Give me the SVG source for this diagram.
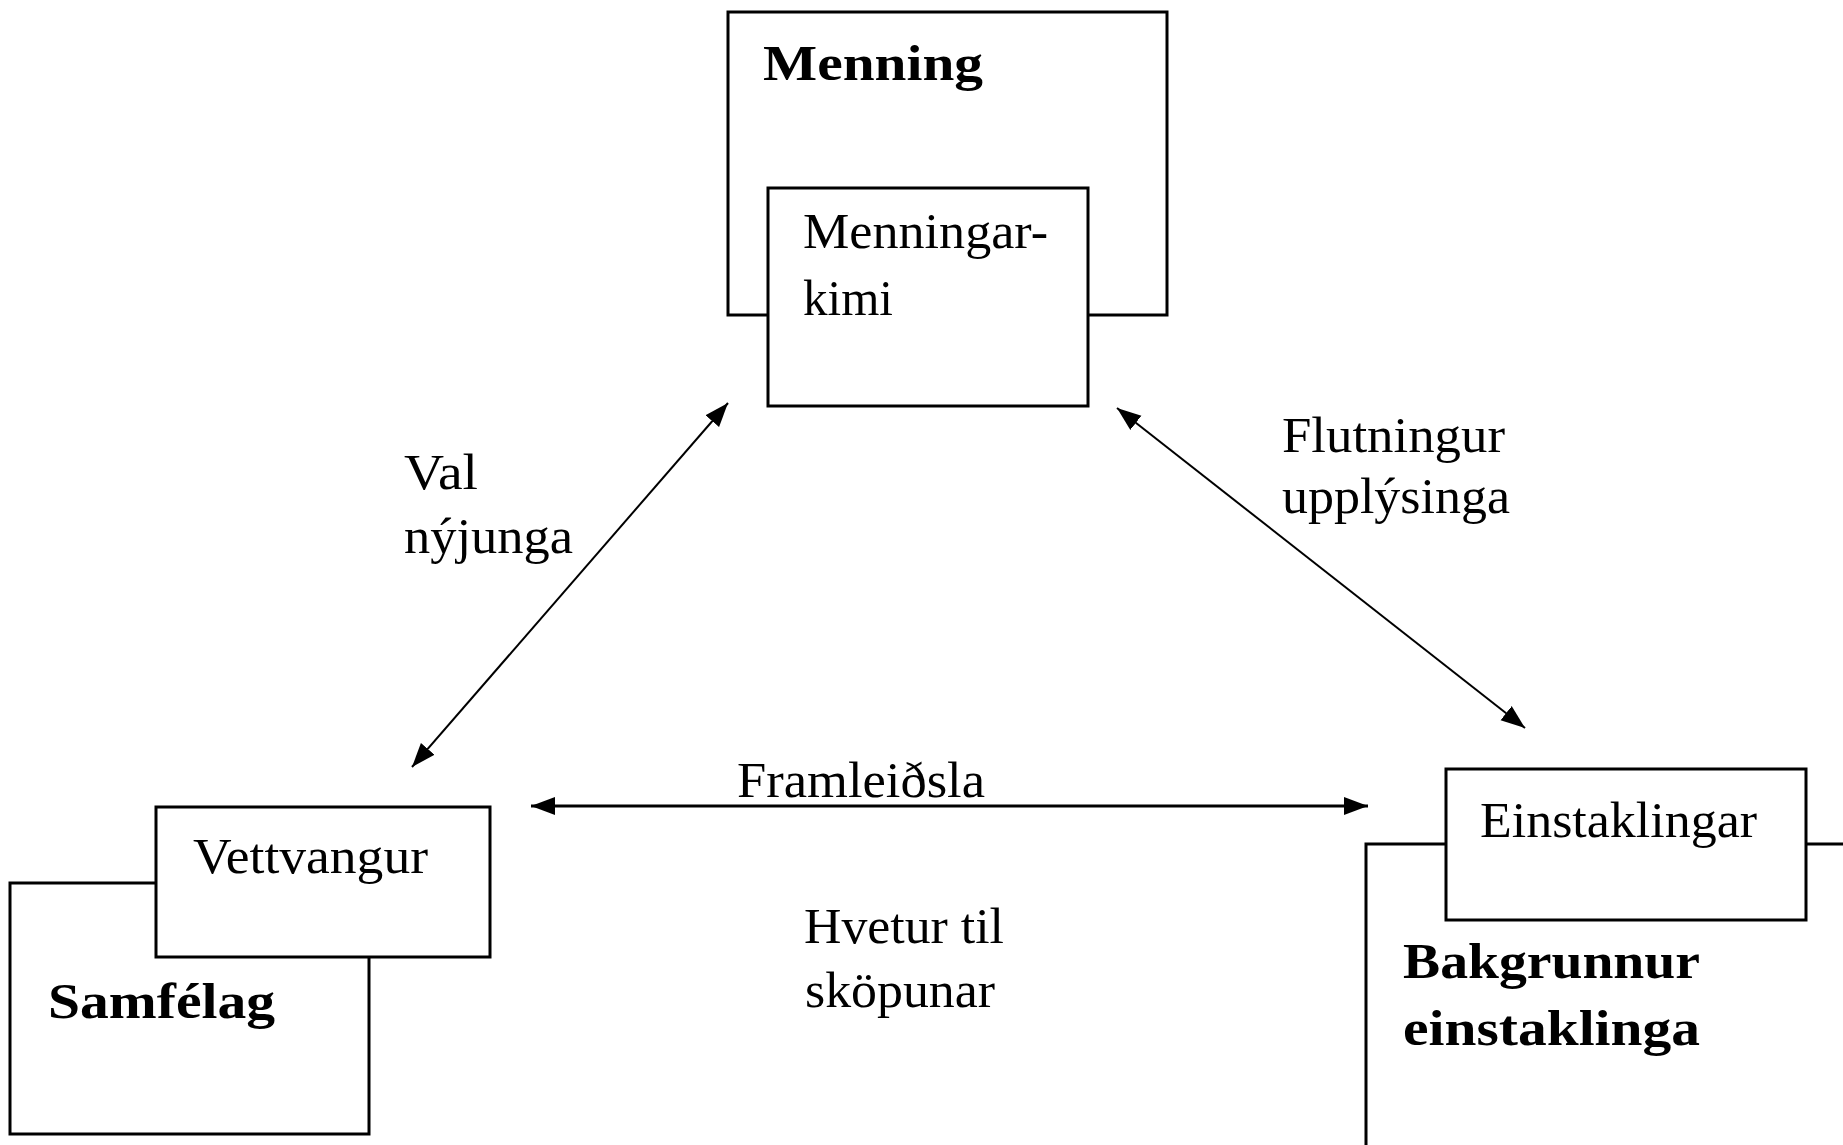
<svg xmlns="http://www.w3.org/2000/svg" width="1843" height="1145" viewBox="0 0 1843 1145">
<style>
.box{fill:#fff;stroke:#000;stroke-width:3}
.t{font-family:"Liberation Serif","Times New Roman",serif;font-size:50px;fill:#000}
.b{font-weight:bold}
.con{stroke:#000;stroke-width:2;fill:none}
.thick{stroke-width:3}
</style>
<defs>
<marker id="ah" markerUnits="userSpaceOnUse" markerWidth="26" markerHeight="20" refX="24" refY="9" orient="auto-start-reverse" viewBox="0 0 26 18">
<path d="M0,0 L24,9 L0,18 Z" fill="#000"/>
</marker>
</defs>
<rect width="1843" height="1145" fill="#fff"/>
<g id="menning">
<rect class="box" x="728" y="12" width="439" height="303"/>
<text class="t b" x="763" y="80" textLength="220" lengthAdjust="spacingAndGlyphs">Menning</text>
</g>
<g id="menningarkimi">
<rect class="box" x="768" y="188" width="320" height="218"/>
<text class="t" x="803" y="248" textLength="245" lengthAdjust="spacingAndGlyphs">Menningar-</text>
<text class="t" x="803" y="315" textLength="90" lengthAdjust="spacingAndGlyphs">kimi</text>
</g>
<g id="samfelag">
<rect class="box" x="10" y="883" width="359" height="251"/>
<text class="t b" x="48" y="1018" textLength="227" lengthAdjust="spacingAndGlyphs">Samfélag</text>
</g>
<g id="vettvangur">
<rect class="box" x="156" y="807" width="334" height="150"/>
<text class="t" x="193" y="873" textLength="235" lengthAdjust="spacingAndGlyphs">Vettvangur</text>
</g>
<g id="bakgrunnur">
<path class="box" d="M1850,844 H1366 V1150"/>
<text class="t b" x="1403" y="978" textLength="297" lengthAdjust="spacingAndGlyphs">Bakgrunnur</text>
<text class="t b" x="1403" y="1045" textLength="297" lengthAdjust="spacingAndGlyphs">einstaklinga</text>
</g>
<g id="einstaklingar">
<rect class="box" x="1446" y="769" width="360" height="151"/>
<text class="t" x="1480" y="837" textLength="277" lengthAdjust="spacingAndGlyphs">Einstaklingar</text>
</g>
<g id="connectors">
<line class="con" x1="412" y1="767" x2="728" y2="403" marker-start="url(#ah)" marker-end="url(#ah)"/>
<line class="con" x1="1117" y1="408" x2="1525" y2="728" marker-start="url(#ah)" marker-end="url(#ah)"/>
<line class="con thick" x1="531" y1="806" x2="1368" y2="806" marker-start="url(#ah)" marker-end="url(#ah)"/>
</g>
<g id="labels">
<text class="t" x="404" y="489" textLength="74" lengthAdjust="spacingAndGlyphs">Val</text>
<text class="t" x="404" y="553" textLength="169" lengthAdjust="spacingAndGlyphs">nýjunga</text>
<text class="t" x="1282" y="452" textLength="223" lengthAdjust="spacingAndGlyphs">Flutningur</text>
<text class="t" x="1282" y="513" textLength="228" lengthAdjust="spacingAndGlyphs">upplýsinga</text>
<text class="t" x="737" y="797" textLength="248" lengthAdjust="spacingAndGlyphs">Framleiðsla</text>
<text class="t" x="804" y="943" textLength="200" lengthAdjust="spacingAndGlyphs">Hvetur til</text>
<text class="t" x="805" y="1007" textLength="190" lengthAdjust="spacingAndGlyphs">sköpunar</text>
</g>
</svg>
